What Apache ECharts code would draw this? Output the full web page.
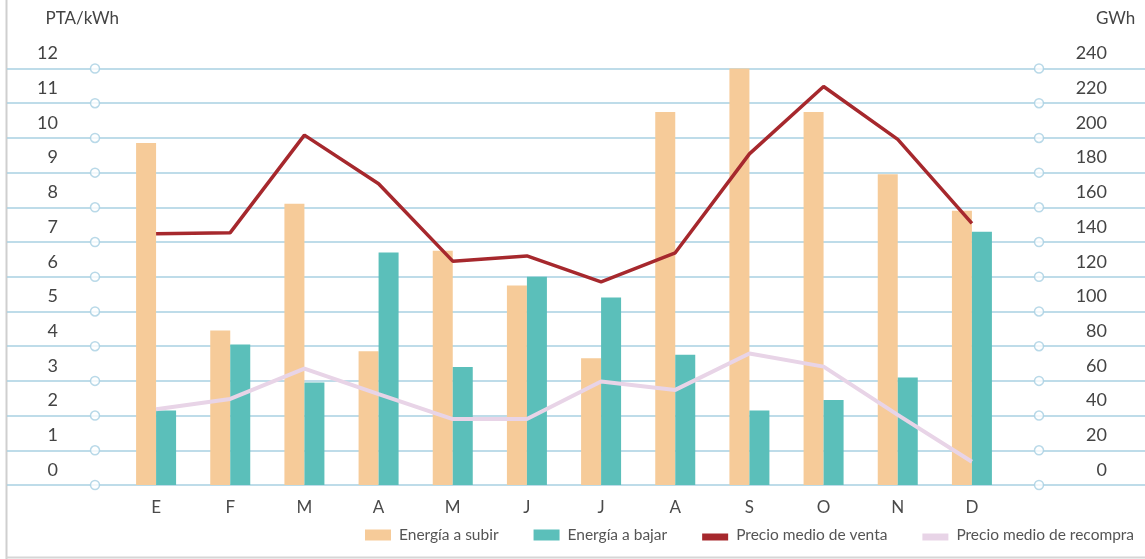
<!DOCTYPE html>
<html>
<head>
<meta charset="utf-8">
<script src="https://cdn.jsdelivr.net/npm/echarts@6/dist/echarts.min.js"></script>
<style>
html,body{margin:0;padding:0;background:#fff;}
#chart{width:1145px;height:559px;}
</style>
</head>
<body>
<div id="chart"></div>
<script>
// ---- data ----
const months = ['E','F','M','A','M','J','J','A','S','O','N','D'];
const energiaSubir = [197, 89, 162, 77, 135, 115, 73, 215, 240, 215, 179, 158];
const energiaBajar = [43, 81, 59, 134, 68, 120, 108, 75, 43, 49, 62, 146];
const precioVenta = [7.24, 7.27, 10.08, 8.68, 6.45, 6.60, 5.85, 6.69, 9.54, 11.48, 9.96, 7.54];
const precioRecompra = [2.18, 2.48, 3.35, 2.62, 1.90, 1.90, 2.98, 2.74, 3.79, 3.41, 2.02, 0.67];
const leftTicks = [0,1,2,3,4,5,6,7,8,9,10,11,12];
const rightTicks = [0,20,40,60,80,100,120,140,160,180,200,220,240];
const leftTitle = 'PTA/kWh';
const rightTitle = 'GWh';
const seriesNames = ['Energía a subir','Energía a bajar','Precio medio de venta','Precio medio de recompra'];

// ---- styles ----
const C_SUBIR = '#F6CB99', C_BAJAR = '#5BBFBA', C_VENTA = '#A6282D', C_RECOMPRA = '#E8D4E7';
const C_GRID = '#A8D0E2';
const FONT = 'Lato, "Open Sans", sans-serif';
const TOP = 68.5, BOTTOM = 74;

const chart = echarts.init(document.getElementById('chart'), null, {renderer:'canvas'});
const lineIcon = 'path://M0,0M0,4L26,4L26,11L0,11ZM26,11';

chart.setOption({
  animation: false,
  textStyle: {fontFamily: FONT},
  graphic: [
    {type:'line', shape:{x1:6.5,y1:0,x2:6.5,y2:559}, style:{stroke:'#cfcfcf', lineWidth:2}, z:0},
    {type:'line', shape:{x1:6,y1:557.5,x2:1145,y2:557.5}, style:{stroke:'#d6d6d6', lineWidth:2}, z:0}
  ],
  grid: [
    {left:7, right:0, top:TOP, bottom:BOTTOM},
    {left:95, right:106, top:TOP, bottom:BOTTOM},
    {left:119, right:136, top:TOP, bottom:BOTTOM}
  ],
  xAxis: [
    {gridIndex:0, type:'value', min:0, max:1, show:false},
    {gridIndex:1, type:'value', min:0, max:1, show:false},
    {gridIndex:2, type:'category', data:months,
     axisLine:{show:false}, axisTick:{show:false},
     axisLabel:{margin:14, color:'#4a4a4a', fontSize:17, fontFamily:FONT}}
  ],
  yAxis: [
    {gridIndex:0, type:'value', min:leftTicks[0], max:leftTicks[leftTicks.length-1], interval:1,
     axisLine:{show:false}, axisTick:{show:false}, axisLabel:{show:false},
     splitLine:{show:true, lineStyle:{color:C_GRID, width:1.6}}},
    {gridIndex:1, type:'value', min:leftTicks[0], max:leftTicks[leftTicks.length-1], interval:1, show:false},
    {gridIndex:2, type:'value', position:'left', min:leftTicks[0], max:leftTicks[leftTicks.length-1], interval:1,
     axisLine:{show:false}, axisTick:{show:false}, splitLine:{show:false},
     axisLabel:{margin:61, color:'#444', fontSize:18, fontFamily:FONT, verticalAlign:'bottom', padding:[0,0,6,0]},
     name:leftTitle, nameLocation:'end', nameGap:50,
     nameTextStyle:{color:'#444', fontSize:17, fontFamily:FONT, align:'right', verticalAlign:'middle'}},
    {gridIndex:2, type:'value', position:'right', min:rightTicks[0], max:rightTicks[rightTicks.length-1], interval:20,
     axisLine:{show:false}, axisTick:{show:false}, splitLine:{show:false},
     axisLabel:{margin:98, align:'right', color:'#444', fontSize:18, fontFamily:FONT, verticalAlign:'bottom', padding:[0,0,6,0]},
     name:rightTitle, nameLocation:'end', nameGap:50,
     nameTextStyle:{color:'#444', fontSize:17, fontFamily:FONT, align:'left', verticalAlign:'middle', padding:[0,0,0,87]}}
  ],
  legend: {
    left:365, top:527, padding:0, width:790, itemWidth:26, itemHeight:11, itemGap:35,
    textStyle:{color:'#555', fontSize:15.5, fontFamily:FONT, padding:[0,0,0,3]},
    data: [
      {name:seriesNames[0], icon:'rect'},
      {name:seriesNames[1], icon:'rect'},
      {name:seriesNames[2], icon:lineIcon, itemStyle:{color:C_VENTA, borderWidth:0}, lineStyle:{width:0}},
      {name:seriesNames[3], icon:lineIcon, itemStyle:{color:C_RECOMPRA, borderWidth:0}, lineStyle:{width:0}}
    ]
  },
  series: [
    {type:'scatter', xAxisIndex:1, yAxisIndex:1, silent:true, z:3,
     data: leftTicks.flatMap(v => [[0, v], [1, v]]),
     symbol:'circle', symbolSize:9,
     itemStyle:{color:'#fff', borderColor:C_GRID, borderWidth:1.5}},
    {name:seriesNames[0], type:'bar', xAxisIndex:2, yAxisIndex:3, data:energiaSubir,
     barWidth:20, barGap:'0%', itemStyle:{color:C_SUBIR}, z:4},
    {name:seriesNames[1], type:'bar', xAxisIndex:2, yAxisIndex:3, data:energiaBajar,
     barWidth:20, barGap:'0%', itemStyle:{color:C_BAJAR}, z:4},
    {name:seriesNames[2], type:'line', xAxisIndex:2, yAxisIndex:2, data:precioVenta,
     symbol:'none', lineStyle:{color:C_VENTA, width:3.5}, itemStyle:{color:C_VENTA}, z:6},
    {name:seriesNames[3], type:'line', xAxisIndex:2, yAxisIndex:2, data:precioRecompra,
     symbol:'none', lineStyle:{color:C_RECOMPRA, width:4}, itemStyle:{color:C_RECOMPRA}, z:5}
  ]
});
</script>
</body>
</html>
